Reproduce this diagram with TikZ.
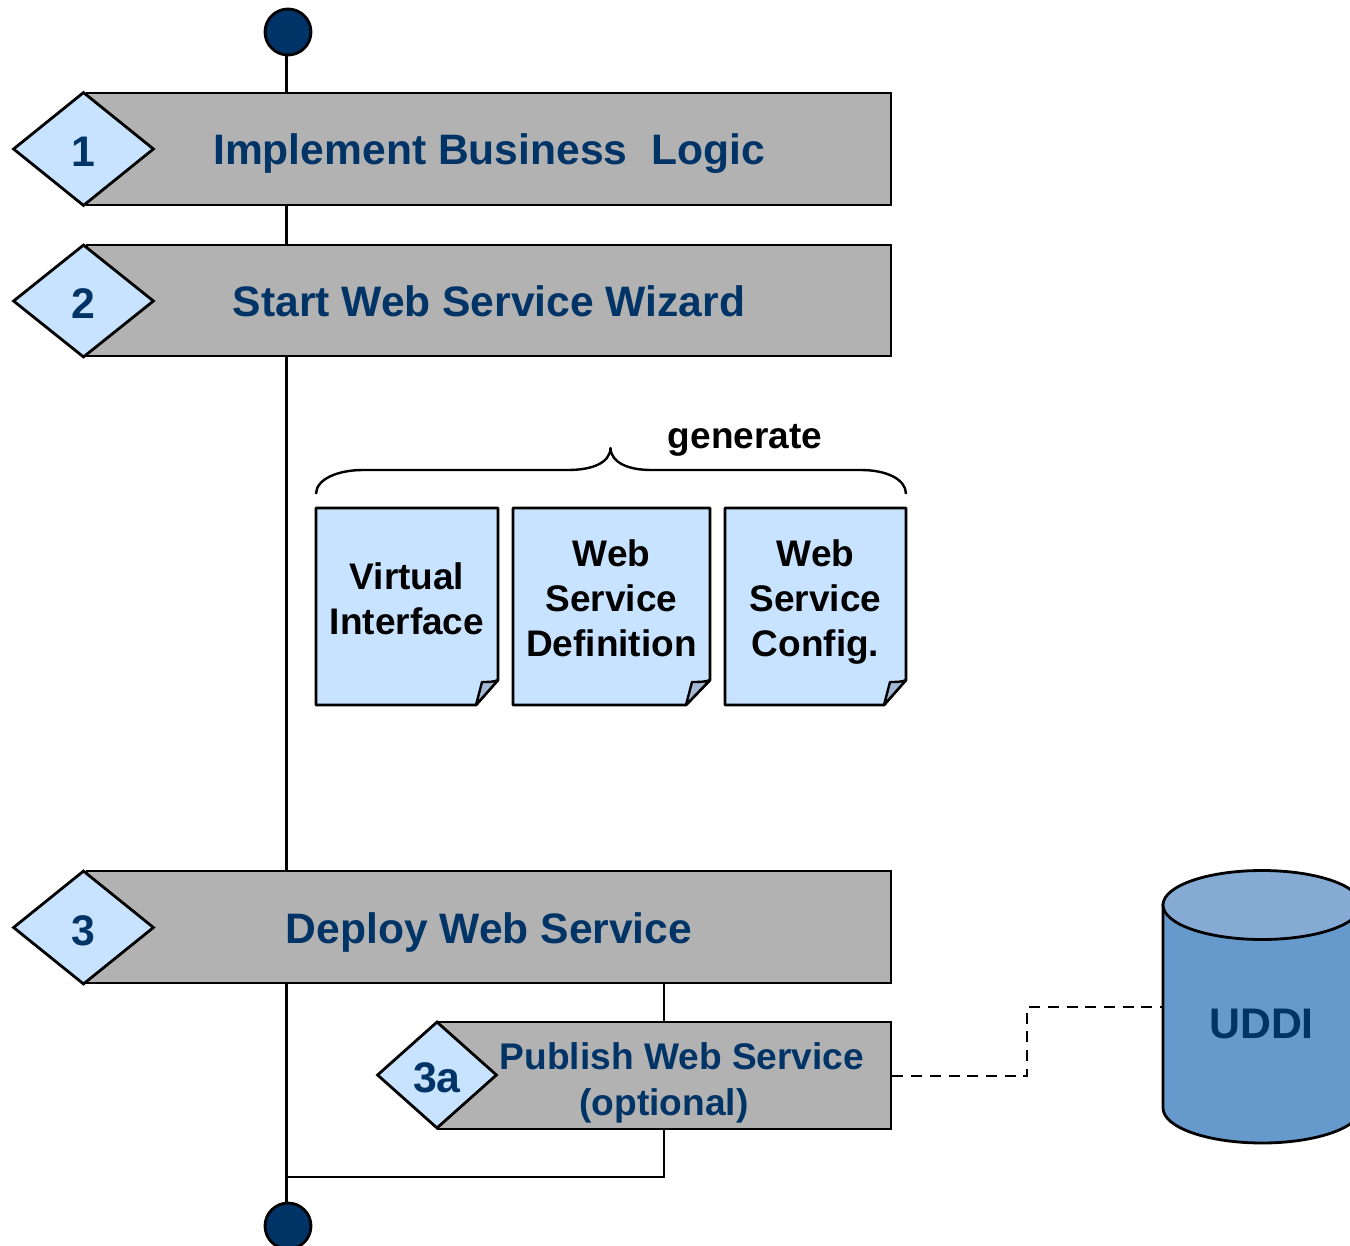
\documentclass[tikz,border=0pt]{standalone}
\usepackage{fontspec}
\setmainfont{Liberation Sans}
\usetikzlibrary{shapes.geometric}
\definecolor{navy}{HTML}{003366}
\definecolor{barGray}{HTML}{B2B2B2}
\definecolor{paleBlue}{HTML}{C8E3FF}
\definecolor{foldBlue}{HTML}{A3B8D2}
\definecolor{cylBody}{HTML}{6699CC}
\definecolor{cylTop}{HTML}{85ABD5}
\tikzset{
  x=1pt,y=-1pt,
  wire/.style={draw=black,line width=2.8pt},
  barbox/.style={draw=black,line width=2.8pt,fill=barGray,rectangle,inner sep=0pt,text=navy,align=center,text height=32pt,text depth=0pt,font=\fontsize{42.6}{46}\selectfont\bfseries},
  badge/.style={draw=black,line width=2.8pt,fill=paleBlue,diamond,inner sep=0pt,text=navy,text height=36pt,text depth=0pt,font=\fontsize{42.8}{46}\selectfont\bfseries},
  endpoint/.style={draw=black,line width=2.8pt,fill=navy,circle,inner sep=0pt,minimum size=46pt},
  doclabel/.style={text=black,align=center,inner sep=0pt,font=\fontsize{37}{45}\selectfont\bfseries},
  docpage/.style={draw=black,line width=2.8pt,fill=paleBlue,line join=round},
  docfold/.style={draw=black,line width=2.4pt,fill=foldBlue,line join=round},
}
\newcommand{\pageshape}[3]{% left, right, fold x
  \path[docpage] (#1,508) -- (#2,508) -- (#2,680) -- (#3,705) -- (#1,705) -- cycle;
  \path[docfold] (#3,705) -- (#3+6,682) .. controls (#3+12,682) and (#2-4,682) .. (#2,680) -- cycle;
}
\begin{document}
\begin{tikzpicture}
\useasboundingbox (0,0) rectangle (1350,1246);
\clip (0,0) rectangle (1350,1246);
% endpoints and spine
\coordinate (spinetop) at (286.5,55);
\coordinate (spinejoin) at (286.5,1177);
\coordinate (spinebot) at (286.5,1203);
\draw[wire] (spinetop) -- (spinebot);
\node[endpoint] (startdot) at (288,32) {};
\node[endpoint] (enddot) at (288,1226) {};
% bars
\node[barbox,minimum width=804pt,minimum height=112pt] (bar1) at (489,149) {Implement Business\ \ Logic};
\node[barbox,minimum width=804pt,minimum height=111pt] (bar2) at (489,300.5) {Start Web Service Wizard};
\node[barbox,minimum width=804pt,minimum height=112pt] (bar3) at (489,927) {Deploy Web Service};
% branch behind 3a
\draw[wire] (664,983) -- (664,1177) -- (spinejoin);
\node[barbox,minimum width=453pt,minimum height=107pt,text height=0pt] (bar3a) at (664.5,1075.5) {};
\node[text=navy,align=center,inner sep=0pt,font=\fontsize{37.1}{46}\selectfont\bfseries] (publish) at (664,1082.5) {\hspace*{36pt}Publish Web Service\\(optional)};
% diamonds
\node[badge,minimum width=141pt,minimum height=114pt] (badge1) at (83.5,149) {1};
\node[badge,minimum width=141pt,minimum height=113pt] (badge2) at (83.5,301) {2};
\node[badge,minimum width=141pt,minimum height=114pt] (badge3) at (83.5,927.5) {3};
\node[badge,minimum width=120pt,minimum height=107pt,text height=34pt] (badge3a) at (437,1075) {3a};
% documents
\pageshape{316}{498}{476}
\pageshape{513}{710}{686}
\pageshape{725}{906}{884}
\node[doclabel] (doc1) at (407,599) {Virtual\\Interface};
\node[doclabel] (doc2) at (611.5,598.5) {Web\\Service\\Definition};
\node[doclabel] (doc3) at (815.5,602) {Web\\Service\\Config.};
% brace
\draw[line width=2.4pt,line join=round] (316,494) .. controls (316,479) and (338,470) .. (363,470) -- (568,470)
  .. controls (592,470) and (610,463) .. (610.5,448) .. controls (611,463) and (629,470) .. (651,470) -- (861,470)
  .. controls (886,470) and (906,479) .. (906,494);
\node[text=black,inner sep=0pt,text depth=0pt,font=\fontsize{37}{45}\selectfont\bfseries] (gen) at (745,436) {generate};
% cylinder
\path[draw=black,line width=2.8pt,fill=cylBody] (1163,905) -- (1163,1108) arc[start angle=180,end angle=360,x radius=99,y radius=-35] -- (1361,905) -- cycle;
\path[draw=black,line width=2.8pt,fill=cylTop] (1262,905) ellipse[x radius=99,y radius=34.5];
\node[text=navy,inner sep=0pt,text depth=0pt,font=\fontsize{42.8}{46}\selectfont\bfseries] (uddi) at (1261.5,1024) {UDDI};
% dashed link
\coordinate (uddiport) at (1163,1007);
\draw[line width=2.8pt,dash pattern=on 11pt off 7.7pt] (bar3a.east |- 0,1076) -- (1027,1076) -- (1027,1007) -- (uddiport);
\end{tikzpicture}
\end{document}
